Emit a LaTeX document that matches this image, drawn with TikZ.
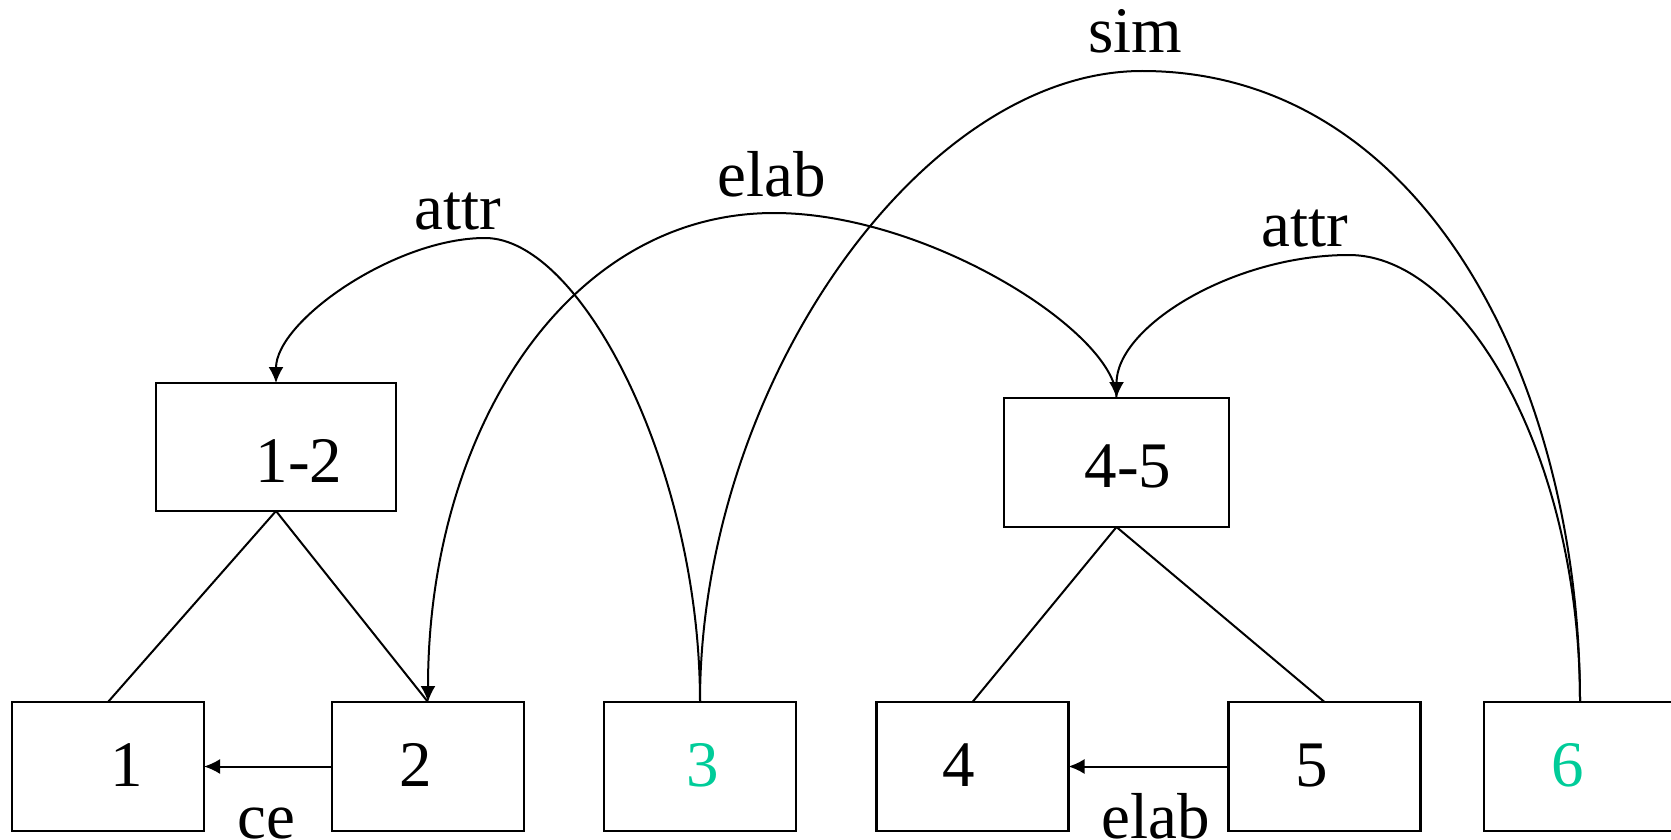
\documentclass[tikz,border=0pt]{standalone}
\usepackage{fontspec}
\setmainfont{Liberation Serif}
\usetikzlibrary{arrows.meta}
\definecolor{seggreen}{RGB}{0,204,153}
\begin{document}
\begin{tikzpicture}[x=0.5pt,y=-0.5pt,
  box/.style={draw,line width=1.1pt,inner sep=0pt,outer sep=0pt,minimum width=96pt,minimum height=64.5pt},
  wide/.style={box,minimum width=120pt,minimum height=64pt},
  wide2/.style={box,minimum width=112.5pt,minimum height=64.5pt},
  lbl/.style={font=\fontsize{32.5pt}{36pt}\selectfont,inner sep=0pt,anchor=base},
  edge/.style={line width=1pt},
  arr/.style={line width=1pt,-{Latex[length=8pt,width=7.5pt]}},
  seg/.style={text=seggreen}]
\useasboundingbox (0,0) rectangle (1671,840);
% boxes
\node[box] (b1) at (108,766.5) {};
\node[box] (b2) at (428,766.5) {};
\node[box] (b3) at (700,766.5) {};
\node[box] (b4) at (972.5,766.5) {};
\node[box] (b5) at (1324.5,766.5) {};
\node[box] (b6) at (1580,766.5) {};
\node[wide] (b12) at (276,447) {};
\node[wide2] (b45) at (1116.5,462.5) {};
% box texts
\node[lbl] (t1) at (127,786) {1};
\node[lbl] (t2) at (416,786) {2};
\node[lbl,seg] (t3) at (703,786) {3};
\node[lbl] (t4) at (959,786) {4};
\node[lbl] (t5) at (1311.5,786) {5};
\node[lbl,seg] (t6) at (1568,786) {6};
\node[lbl] (t12) at (299,482) {1-2};
\node[lbl] (t45) at (1128,487) {4-5};
% tree lines
\draw[edge] (b12.south) -- (b1.north);
\draw[edge] (b12.south) -- (b2.north);
\draw[edge] (b45.south) -- (b4.north);
\draw[edge] (b45.south) -- (b5.north);
% horizontal arrows
\draw[arr] (b2.west) -- (b1.east);
\draw[arr] (b5.west) -- (b4.east);
% peaks
\coordinate (pA) at (485,238);
\coordinate (pE) at (774,213);
\coordinate (pS) at (1142,71);
\coordinate (pR) at (1349,255);
% arcs
\draw[arr] (b3.north) .. controls +(0,-232) and +(97,0) .. (pA)
  .. controls +(-90,0) and +(0,-62) .. (b12.north);
\draw[arr] (b45.north) .. controls +(0,-65) and +(154,0) .. (pE)
  .. controls +(-208,0) and +(0,-269) .. (b2.north);
\draw[edge] (b3.north) .. controls +(0,-315.5) and +(-221,0) .. (pS)
  .. controls +(285,0) and +(0,-315.5) .. (b6.north);
\draw[arr] (b6.north) .. controls +(0,-246) and +(115.5,0) .. (pR)
  .. controls +(-116,0) and +(0,-71.5) .. (b45.north);
% relation labels
\node[lbl] (lA) at (458,229) {attr};
\node[lbl] (lE) at (772,197) {elab};
\node[lbl] (lS) at (1135,53) {sim};
\node[lbl] (lR) at (1305,246) {attr};
\node[lbl] (lce) at (266,838) {ce};
\node[lbl] (lel) at (1156,838) {elab};
\end{tikzpicture}
\end{document}
